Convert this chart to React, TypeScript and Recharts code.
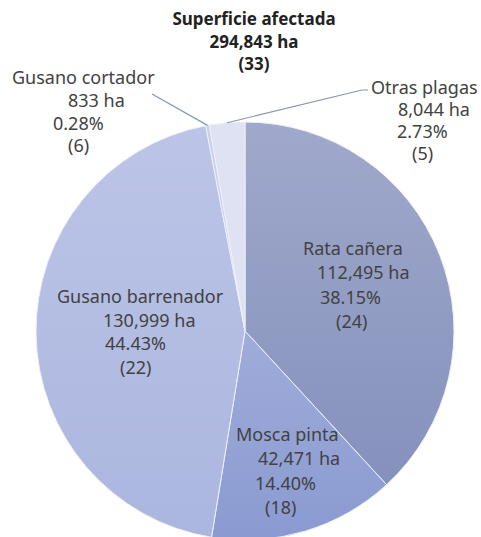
import React from 'react';
import { PieChart, Pie, Cell } from 'recharts';

const NAMES = ['Rata cañera', 'Mosca pinta', 'Gusano barrenador', 'Gusano cortador', 'Otras plagas'];
const AREA_HA = [112495, 42471, 130999, 833, 8044];
const PERCENTS = ['38.15%', '14.40%', '44.43%', '0.28%', '2.73%'];
const COUNTS = [24, 18, 22, 6, 5];

const TITLE = ['Superficie afectada', '294,843 ha', '(33)'];

const data = NAMES.map((name, i) => ({
  name,
  value: AREA_HA[i],
  pct: PERCENTS[i],
  count: COUNTS[i],
}));

const FILLS = ['url(#gRata)', 'url(#gMosca)', 'url(#gBarr)', '#c9d1ec', '#dee2f2'];

// label layout relative to pie centre: x offset of each line, first baseline, line step
const LABEL_LAYOUT = [
  { dx: [58, 72, 75, 91], y: -76, step: 24.3 },
  { dx: [-9, 13, 10, 20], y: 110, step: 24.3 },
  { dx: [-188, -142, -140, -125], y: -28, step: 23.7 },
  { dx: [-233, -177, -192, -177], y: -247, step: 22.8, line: [-93, -237] },
  { dx: [126, 153, 152, 167], y: -237, step: 22, line: [117, -241] },
];

const TEXT = '#424242';
const FONT = '"Noto Sans", "Open Sans", sans-serif';
const RAD = Math.PI / 180;

const renderLabel = (props: any) => {
  const { cx, cy, midAngle, outerRadius, index, payload } = props;
  const lay = LABEL_LAYOUT[index];
  const lines = [
    payload.name,
    `${payload.value.toLocaleString('en-US')} ha`,
    payload.pct,
    `(${payload.count})`,
  ];
  let leader = null;
  if (lay.line) {
    const ex = cx + outerRadius * Math.cos(-midAngle * RAD);
    const ey = cy + outerRadius * Math.sin(-midAngle * RAD);
    const sx = cx + lay.line[0];
    const sy = cy + lay.line[1];
    const pts = index === 4 ? `${sx + 6},${sy} ${sx},${sy} ${ex},${ey}` : `${sx},${sy} ${ex},${ey}`;
    leader = <polyline points={pts} fill="none" stroke="#8497b0" strokeWidth={1.2} />;
  }
  return (
    <g key={`lab-${index}`}>
      {leader}
      {lines.map((t, k) => (
        <text
          key={k}
          x={cx + lay.dx[k]}
          y={cy + lay.y + k * lay.step}
          fill={TEXT}
          fontSize={18}
          fontFamily={FONT}
          textAnchor="start"
        >
          {t}
        </text>
      ))}
    </g>
  );
};

export default function App() {
  return (
    <div style={{ position: 'absolute', left: 0, top: 0, width: 481, height: 537, background: '#fff', overflow: 'hidden' }}>
      <div
        style={{
          position: 'absolute',
          left: 0,
          top: 8,
          width: 508,
          textAlign: 'center',
          fontFamily: FONT,
          fontWeight: 700,
          fontSize: 17,
          lineHeight: '22.5px',
          color: '#222',
        }}
      >
        {TITLE.map((t) => (
          <div key={t}>{t}</div>
        ))}
      </div>
      <PieChart width={481} height={537} style={{ position: 'absolute', left: 0, top: 0 }}>
        <defs>
          <linearGradient id="gRata" x1="0" y1="0" x2="0" y2="1">
            <stop offset="0%" stopColor="#a0a9cb" />
            <stop offset="100%" stopColor="#8591bd" />
          </linearGradient>
          <linearGradient id="gMosca" x1="0" y1="0" x2="0" y2="1">
            <stop offset="0%" stopColor="#a0acd9" />
            <stop offset="100%" stopColor="#8a9ad1" />
          </linearGradient>
          <linearGradient id="gBarr" x1="0" y1="0" x2="0" y2="1">
            <stop offset="0%" stopColor="#bcc5e7" />
            <stop offset="100%" stopColor="#abb6df" />
          </linearGradient>
        </defs>
        <Pie
          data={data}
          dataKey="value"
          nameKey="name"
          cx={240}
          cy={326}
          outerRadius={209}
          startAngle={90}
          endAngle={-270}
          stroke="#eef0f8"
          strokeWidth={1}
          label={renderLabel}
          labelLine={false}
          isAnimationActive={false}
        >
          {data.map((d, i) => (
            <Cell key={d.name} fill={FILLS[i]} />
          ))}
        </Pie>
      </PieChart>
    </div>
  );
}
